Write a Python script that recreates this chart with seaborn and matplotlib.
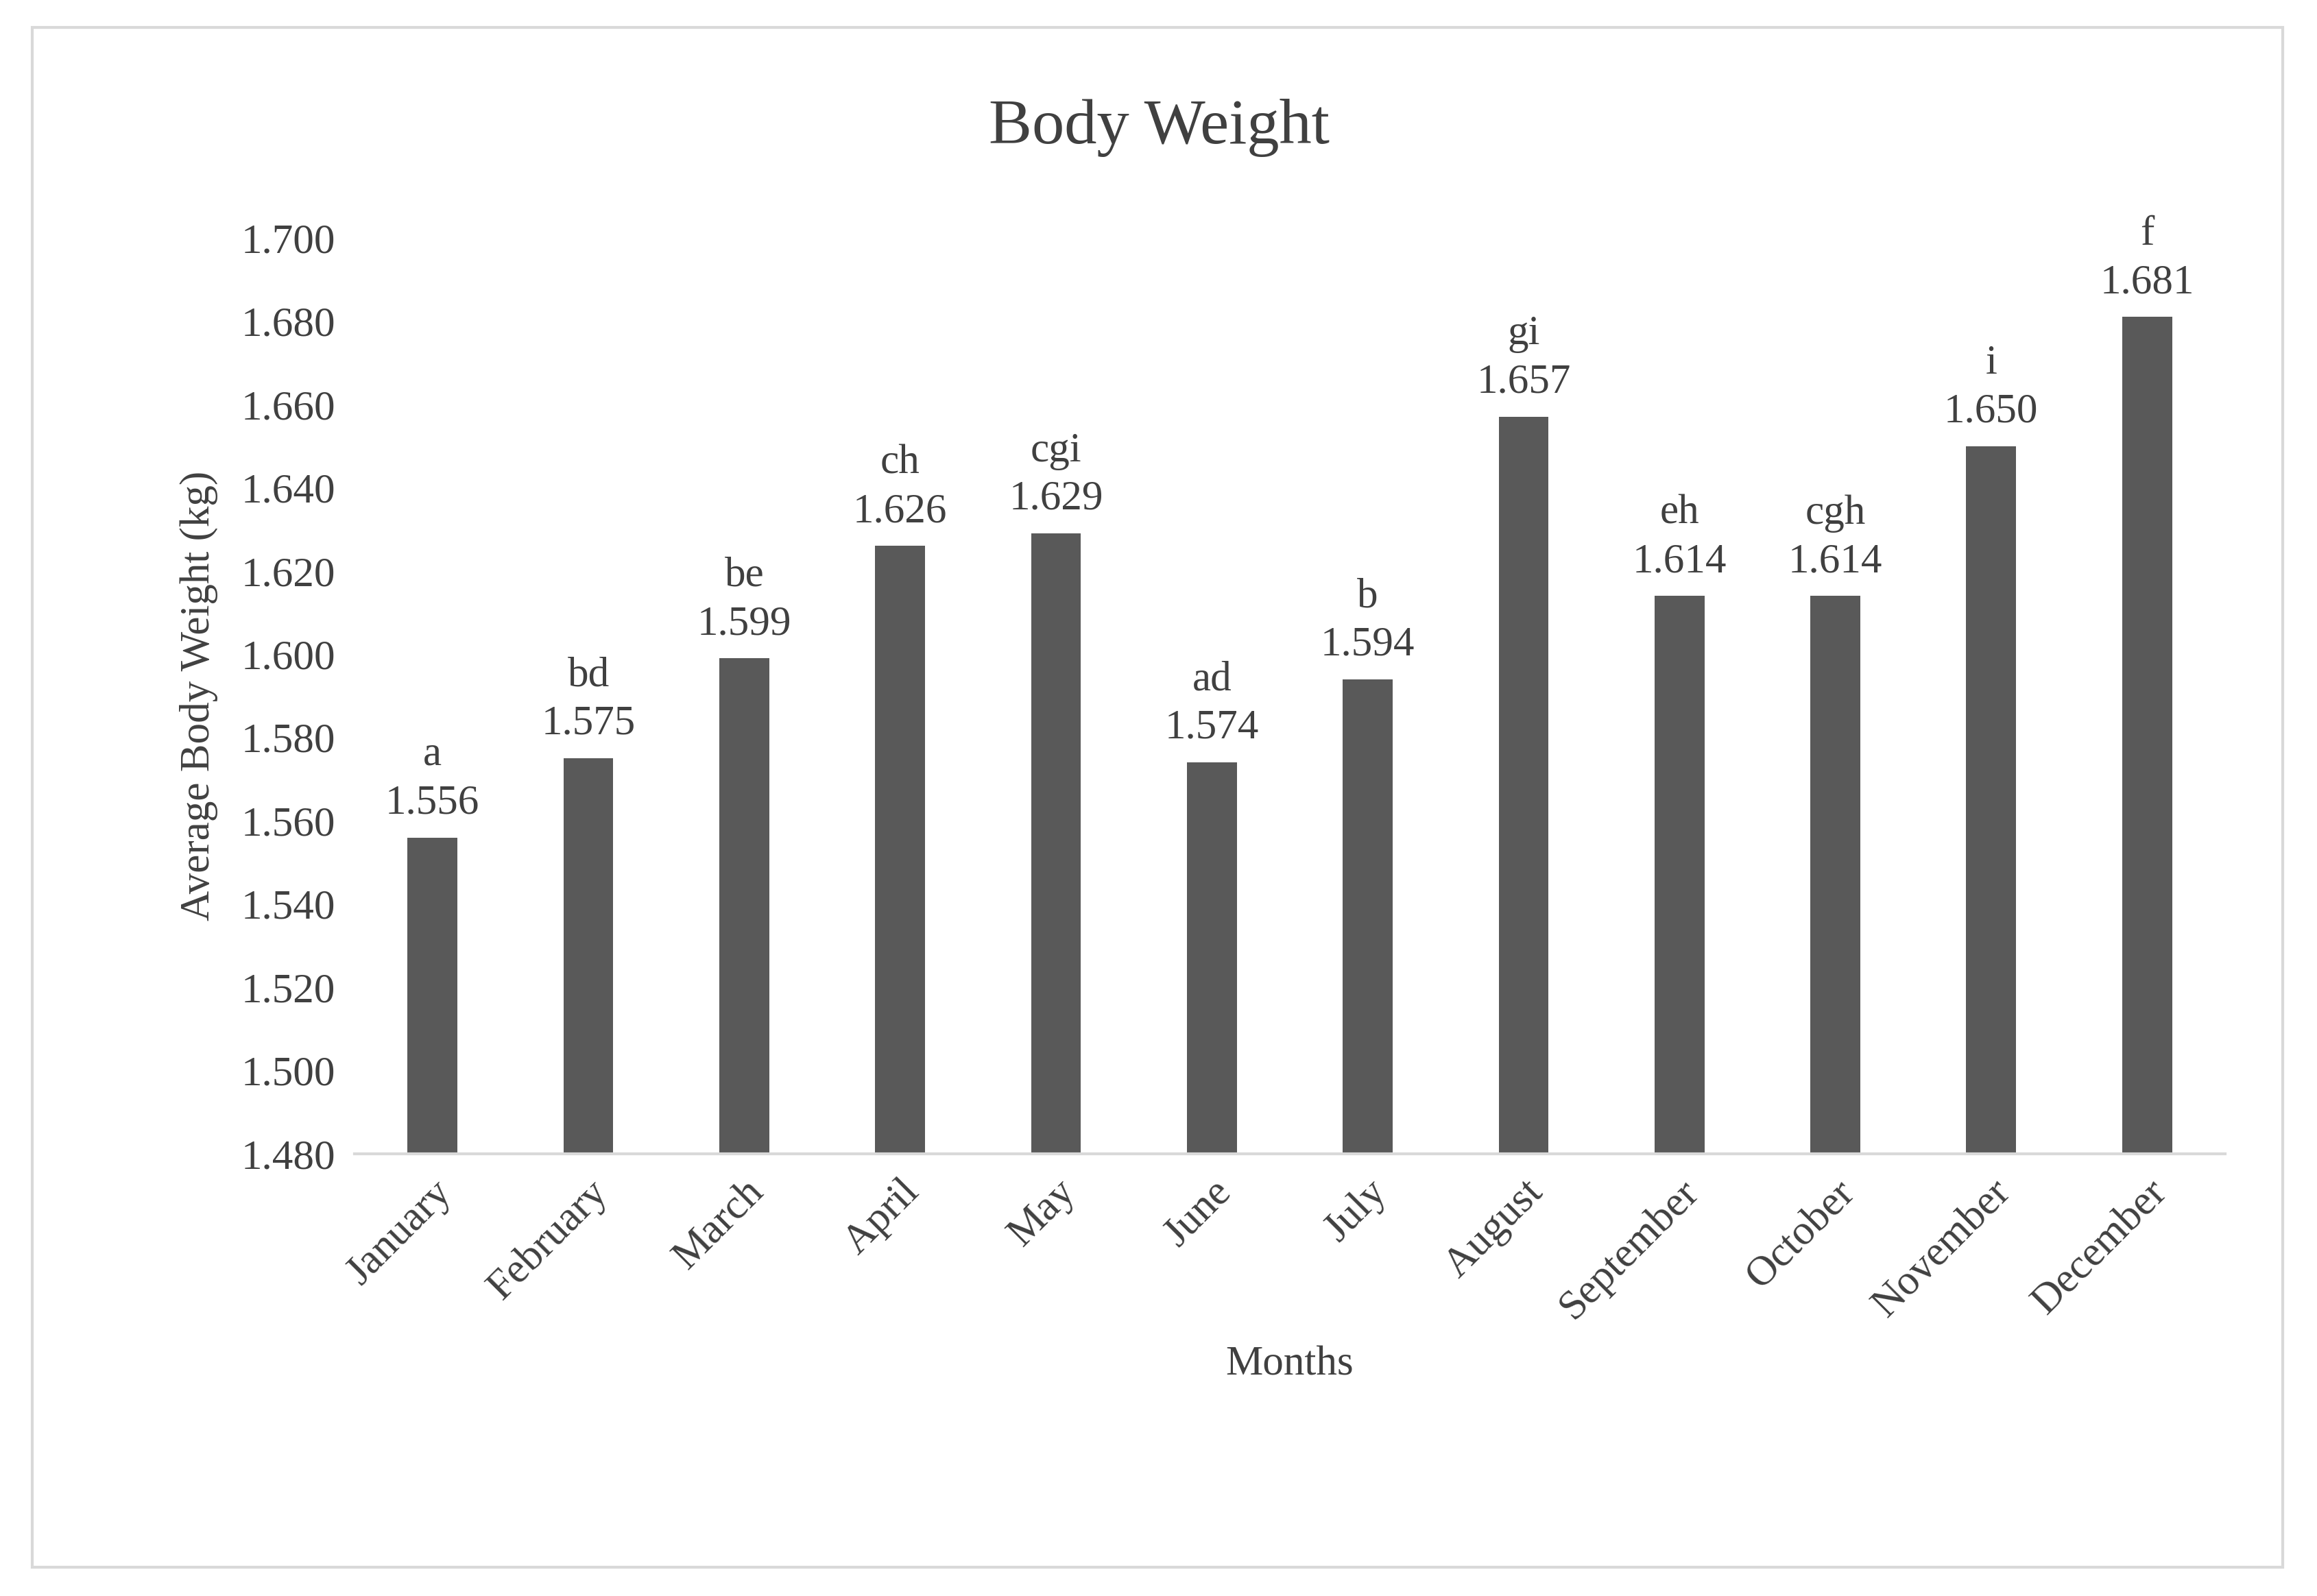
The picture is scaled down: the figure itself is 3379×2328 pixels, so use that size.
import matplotlib
matplotlib.use("Agg")
import matplotlib.pyplot as plt
import seaborn as sns
import pandas as pd
from matplotlib.patches import Rectangle

months = ["January","February","March","April","May","June","July","August",
          "September","October","November","December"]
weights = [1.556,1.575,1.599,1.626,1.629,1.574,1.594,1.657,1.614,1.614,1.650,1.681]
letters = ["a","bd","be","ch","cgi","ad","b","gi","eh","cgh","i","f"]
yticks = [1.480,1.500,1.520,1.540,1.560,1.580,1.600,1.620,1.640,1.660,1.680,1.700]

plt.rcParams["font.family"] = "Liberation Serif"
df = pd.DataFrame({"Month": months, "Weight": weights})

fig = plt.figure(figsize=(16.9, 11.64), dpi=200)
ax = fig.add_axes([0.153, 0.277, 0.807, 0.574])
sns.barplot(data=df, x="Month", y="Weight", color="#595959", saturation=1,
            width=0.32, ax=ax)
ax.set_ylim(1.48, 1.70)
ax.set_yticks(yticks)
ax.set_yticklabels([f"{v:.3f}" for v in yticks], fontsize=22, color="#404040")
ax.set_xticks(range(len(months)))
ax.set_xticklabels(months, rotation=45, ha="right", rotation_mode="anchor",
                   fontsize=22, color="#404040")
ax.tick_params(axis="both", length=0, pad=10)
for s in ["top", "right", "left"]:
    ax.spines[s].set_visible(False)
ax.spines["bottom"].set_color("#d9d9d9")
ax.spines["bottom"].set_linewidth(1.5)
for i, (w, l) in enumerate(zip(weights, letters)):
    ax.annotate(f"{l}\n{w:.3f}", (i, w), xytext=(0, 8), textcoords="offset points",
                ha="center", va="bottom", fontsize=22, color="#404040",
                linespacing=1.35)
ax.set_xlabel("Months", fontsize=22, color="#404040", labelpad=10)
ax.set_ylabel("Average Body Weight (kg)", fontsize=22, color="#404040", labelpad=12)
fig.text(0.5, 0.92, "Body Weight", ha="center", va="center", fontsize=34, color="#404040")
fig.patches.append(Rectangle((0.014, 0.018), 0.971, 0.965, transform=fig.transFigure,
                             fill=False, edgecolor="#d9d9d9", linewidth=1.5))
fig.savefig("out.png", dpi=200, facecolor="white")
